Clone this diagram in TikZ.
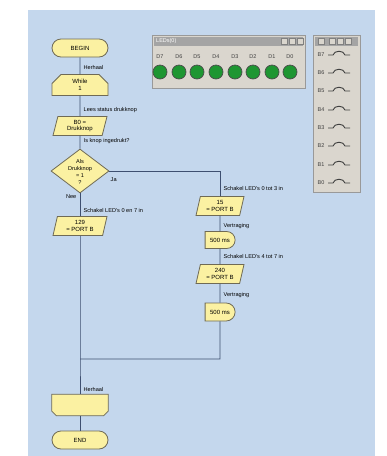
\documentclass[tikz,border=0pt]{standalone}
\usepackage{fontspec}
\setmainfont{Liberation Sans}
\usetikzlibrary{shapes.geometric,shapes.misc}
\definecolor{bgblue}{HTML}{C4D7ED}
\definecolor{fcyel}{HTML}{FBF1A2}
\definecolor{fcedge}{HTML}{6F6A55}
\definecolor{fcline}{HTML}{3E4F70}
\definecolor{winbg}{HTML}{DAD6CE}
\definecolor{winbar}{HTML}{A4A4A4}
\definecolor{ledgreen}{HTML}{1E9632}

\begin{document}
\begin{tikzpicture}[x=1pt,y=-1pt,
  blk/.style={draw=fcedge,fill=fcyel,line width=0.8pt,inner sep=0pt,font=\fontsize{6}{6.6}\selectfont,align=center},
  term/.style={blk,rounded rectangle,minimum width=56pt,minimum height=18pt},
  loopbox/.style={blk,chamfered rectangle,chamfered rectangle xsep=4.5pt,chamfered rectangle ysep=4.5pt,chamfered rectangle corners={north west,north east},minimum width=56pt,minimum height=21pt},
  io/.style={blk,trapezium,trapezium left angle=68,trapezium right angle=112,trapezium stretches body,minimum width=54pt,minimum height=19pt},
  decbox/.style={blk,diamond,minimum width=58pt,minimum height=44pt},
  waitbox/.style={blk,rounded rectangle,rounded rectangle west arc=none,minimum width=30pt,minimum height=17pt},
  lab/.style={font=\fontsize{5.6}{6}\selectfont,anchor=west,inner sep=0.5pt},
  flow/.style={draw=fcline,line width=0.9pt},
  win/.style={draw=black!40,fill=winbg,line width=0.6pt,anchor=north west,inner sep=0pt},
  winbartop/.style={fill=winbar,anchor=north west,inner sep=0pt,minimum height=9pt},
  btn/.style={draw=black!50,fill=winbg,line width=0.3pt,minimum size=6pt,inner sep=0pt},
  pin/.style={font=\fontsize{5.5}{5.5}\selectfont,text=black!75,inner sep=0pt},
  led/.style={circle,draw=black!70,fill=ledgreen,line width=0.7pt,minimum size=14pt,inner sep=0pt},
  swsym/.style={draw=black!75,line width=0.9pt}]
\useasboundingbox (0,0) rectangle (387,456);
\fill[bgblue] (28,10) rectangle (375,456);

% flowchart, main column
\node[term] (begin) at (80,48) {BEGIN};
\node[loopbox] (whilebox) at (80,85) {While\\1};
\node[io] (readin) at (80,126) {B0 =\\Drukknop};
\node[decbox] (dec) at (80,171) {};
\node[font=\fontsize{5.6}{7.2}\selectfont,align=center,inner sep=0pt] (dectxt) at (80,172) {Als\\Drukknop\\= 1\\?};
\node[io] (set129) at (80,226) {129\\= PORT B};
\coordinate (ljoin) at (80,359);
\node[minimum width=56pt,minimum height=21pt,inner sep=0pt] (loopend) at (80,405) {};
\filldraw[draw=fcedge,fill=fcyel,line width=0.8pt] (loopend.north west) -- (loopend.north east)
  -- ([yshift=4.5pt]loopend.south east) -- ([xshift=-4.5pt]loopend.south east)
  -- ([xshift=4.5pt]loopend.south west) -- ([yshift=4.5pt]loopend.south west) -- cycle;
\node[term] (end) at (80,440) {END};

% right branch
\node[io,minimum width=48pt] (set15) at (220,206) {15\\= PORT B};
\node[waitbox] (wait1) at (220,240) {500 ms};
\node[io,minimum width=48pt] (set240) at (220,274) {240\\= PORT B};
\node[waitbox,minimum height=18pt] (wait2) at (220,312) {500 ms};
\coordinate (rjoin) at (220,359);

\draw[flow] (begin) -- (whilebox);
\draw[flow] (whilebox) -- (readin);
\draw[flow] (readin) -- (dec);
\draw[flow] (dec) -- (set129);
\draw[flow] (set129) -- (ljoin) -- (loopend);
\draw[flow] (loopend) -- (end);
\draw[flow] (dec.east) -| (set15);
\draw[flow] (set15) -- (wait1);
\draw[flow] (wait1) -- (set240);
\draw[flow] (set240) -- (wait2);
\draw[flow] (wait2) -- (rjoin) -- (ljoin);

% comments
\node[lab] (labloop1) at (83,67) {Herhaal};
\node[lab] (labread) at (83,110) {Lees status drukknop};
\node[lab] (labask) at (83,141) {Is knop ingedrukt?};
\node[lab] (labja) at (110,180) {Ja};
\node[lab,anchor=east] (labnee) at (77,197) {Nee};
\node[lab] (lab129) at (83,210) {Schakel LED's 0 en 7 in};
\node[lab] (lab15) at (223,188) {Schakel LED's 0 tot 3 in};
\node[lab] (labwait1) at (223,226) {Vertraging};
\node[lab] (lab240) at (223,256) {Schakel LED's 4 tot 7 in};
\node[lab] (labwait2) at (223,295) {Vertraging};
\node[lab] (labloop2) at (83,389) {Herhaal};

% LED window
\node[win,minimum width=153pt,minimum height=53pt] (ledwin) at (152,35) {};
\node[winbartop,minimum width=149pt] (ledbar) at (154,37) {};
\node[pin,anchor=west,text=white] (ledtitle) at (156,41.5) {LEDs(0)};
\node[btn] (lbtn1) at (284,41.5) {};
\node[btn] (lbtn2) at (292,41.5) {};
\node[btn] (lbtn3) at (300,41.5) {};
\foreach \i/\x in {7/160,6/179,5/197,4/216,3/235,2/253,1/272,0/290} {
  \node[pin] (dlab\i) at (\x,57) {D\i};
  \node[led] (led\i) at (\x,72) {};
}

% switch window
\node[win,minimum width=47pt,minimum height=157pt] (swwin) at (313,35) {};
\node[winbartop,minimum width=43pt] (swbar) at (315,37) {};
\node[btn] (sbtn1) at (321,41.5) {};
\node[btn] (sbtn2) at (332,41.5) {};
\node[btn] (sbtn3) at (340,41.5) {};
\node[btn] (sbtn4) at (348,41.5) {};
\foreach \i/\y in {7/55,6/73,5/91,4/110,3/128,2/146,1/165,0/183} {
  \node[pin] (blab\i) at (321,\y) {B\i};
  \draw[swsym] (328,\y) -- (333,\y) .. controls (334,{\y-5}) and (344,{\y-5}) .. (345,\y) -- (350,\y);
}
\end{tikzpicture}
\end{document}
